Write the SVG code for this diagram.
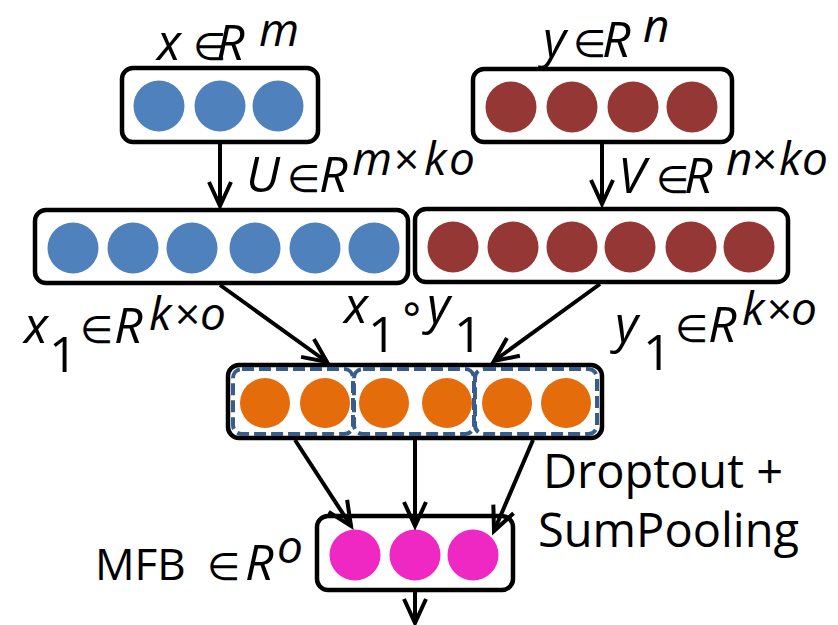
<svg xmlns="http://www.w3.org/2000/svg" width="838" height="625" viewBox="0 0 838 625">
<style>
.box{fill:#fff;stroke:#000;stroke-width:4.5}
.seg{fill:none;stroke:#385D8A;stroke-width:4;stroke-dasharray:12 5}
.blue{fill:#4F81BD}
.red{fill:#953735}
.org{fill:#E46C0A}
.mag{fill:#F028C3}
.con{stroke:#000;stroke-width:4;fill:none;marker-end:url(#ah)}
.m{font-family:"Open Sans","DejaVu Sans",sans-serif;font-style:italic;font-size:50px;fill:#000}
.p{font-size:46px}
.e{font-family:"DejaVu Sans",sans-serif;font-style:normal;font-size:38px}
.s{font-style:normal;font-size:50px}
.x{font-style:normal;font-size:44px}
.t{font-family:"Open Sans","DejaVu Sans",sans-serif;font-size:47px;fill:#000}
</style>
<defs>
<marker id="ah" markerUnits="userSpaceOnUse" markerWidth="40" markerHeight="40" refX="0" refY="0" orient="auto" overflow="visible">
<path d="M-24,-11 L0,0 L-24,11" fill="none" stroke="#000" stroke-width="4" stroke-linejoin="miter"/>
</marker>
</defs>

<g id="node-x">
<rect class="box" x="122" y="68" width="196" height="74" rx="11"/>
<circle class="blue" cx="159" cy="106" r="25.5"/>
<circle class="blue" cx="220" cy="106" r="25.5"/>
<circle class="blue" cx="278" cy="106" r="25.5"/>
<text class="m"><tspan x="157" y="60">x</tspan><tspan class="e" x="193" y="60">∈</tspan><tspan x="216" y="60">R</tspan><tspan class="p" x="259" y="46">m</tspan></text>
</g>

<g id="node-y">
<rect class="box" x="473" y="69" width="259" height="73" rx="11"/>
<circle class="red" cx="511" cy="107" r="25.5"/>
<circle class="red" cx="572" cy="107" r="25.5"/>
<circle class="red" cx="633" cy="107" r="25.5"/>
<circle class="red" cx="692" cy="107" r="25.5"/>
<text class="m"><tspan x="543" y="57">y</tspan><tspan class="e" x="573" y="57">∈</tspan><tspan x="602" y="57">R</tspan><tspan class="p" x="643" y="42">n</tspan></text>
</g>

<g id="node-x1">
<rect class="box" x="35" y="210" width="373" height="73" rx="11"/>
<circle class="blue" cx="73" cy="248" r="25.5"/>
<circle class="blue" cx="133" cy="248" r="25.5"/>
<circle class="blue" cx="192" cy="248" r="25.5"/>
<circle class="blue" cx="255" cy="248" r="25.5"/>
<circle class="blue" cx="315" cy="248" r="25.5"/>
<circle class="blue" cx="374" cy="248" r="25.5"/>
<text class="m"><tspan x="246" y="192">U</tspan><tspan class="e" x="287" y="192">∈</tspan><tspan x="319" y="192">R</tspan><tspan class="p" x="352" y="175">m</tspan><tspan class="x" x="394" y="175">×</tspan><tspan class="p" x="424" y="175">k</tspan><tspan class="p" x="449" y="175">o</tspan></text>
<text class="m"><tspan x="24" y="343">x</tspan><tspan class="s" x="49" y="372">1</tspan><tspan class="e" x="80" y="343">∈</tspan><tspan x="114" y="343">R</tspan><tspan class="p" x="149" y="330">k</tspan><tspan class="x" x="175" y="330">×</tspan><tspan class="p" x="200" y="330">o</tspan></text>
</g>

<g id="node-y1">
<rect class="box" x="415" y="209" width="373" height="73" rx="11"/>
<circle class="red" cx="453" cy="247" r="25.5"/>
<circle class="red" cx="513" cy="247" r="25.5"/>
<circle class="red" cx="572" cy="247" r="25.5"/>
<circle class="red" cx="630" cy="247" r="25.5"/>
<circle class="red" cx="691" cy="247" r="25.5"/>
<circle class="red" cx="749" cy="247" r="25.5"/>
<text class="m"><tspan x="618" y="193">V</tspan><tspan class="e" x="656" y="193">∈</tspan><tspan x="684" y="193">R</tspan><tspan class="p" x="726" y="175">n</tspan><tspan class="x" x="752" y="175">×</tspan><tspan class="p" x="779" y="175">k</tspan><tspan class="p" x="802" y="175">o</tspan></text>
<text class="m"><tspan x="615" y="342">y</tspan><tspan class="s" x="643" y="370">1</tspan><tspan class="e" x="675" y="342">∈</tspan><tspan x="708" y="342">R</tspan><tspan class="p" x="742" y="325">k</tspan><tspan class="x" x="767" y="325">×</tspan><tspan class="p" x="791" y="325">o</tspan></text>
</g>

<g id="node-product">
<rect class="box" x="228" y="365" width="374" height="73" rx="11"/>
<rect class="seg" x="233" y="369" width="120" height="65" rx="9"/>
<rect class="seg" x="354" y="369" width="120" height="65" rx="9"/>
<rect class="seg" x="475" y="369" width="122" height="65" rx="9"/>
<circle class="org" cx="265" cy="403" r="25"/>
<circle class="org" cx="325" cy="403" r="25"/>
<circle class="org" cx="384" cy="403" r="25"/>
<circle class="org" cx="447" cy="403" r="25"/>
<circle class="org" cx="507" cy="403" r="25"/>
<circle class="org" cx="566" cy="403" r="25"/>
<text class="m"><tspan x="344" y="323">x</tspan><tspan class="s" x="368" y="352">1</tspan><tspan class="x" x="398" y="323">∘</tspan><tspan x="427" y="323">y</tspan><tspan class="s" x="454" y="352">1</tspan></text>
</g>

<g id="node-mfb">
<rect class="box" x="317" y="516" width="196" height="74" rx="11"/>
<circle class="mag" cx="355" cy="555" r="25.5"/>
<circle class="mag" cx="415" cy="555" r="25.5"/>
<circle class="mag" cx="473" cy="555" r="25.5"/>
<text class="m"><tspan class="x" x="95" y="580" font-size="47">MFB</tspan><tspan class="e" x="207" y="580">∈</tspan><tspan x="245" y="580">R</tspan><tspan class="p" x="277" y="563">o</tspan></text>
</g>

<g id="label-dropout">
<text class="t" x="543" y="488">Droptout +</text>
<text class="t" x="538" y="547">SumPooling</text>
</g>

<g id="connectors">
<line class="con" x1="220" y1="144" x2="220" y2="206"/>
<line class="con" x1="602" y1="144" x2="602" y2="204"/>
<line class="con" x1="220" y1="285" x2="327" y2="362"/>
<line class="con" x1="600" y1="284" x2="494" y2="361"/>
<line class="con" x1="295" y1="440" x2="351" y2="526"/>
<line class="con" x1="415" y1="440" x2="415" y2="526"/>
<line class="con" x1="533" y1="440" x2="494" y2="531"/>
<line class="con" x1="415" y1="592" x2="415" y2="623"/>
</g>
</svg>
